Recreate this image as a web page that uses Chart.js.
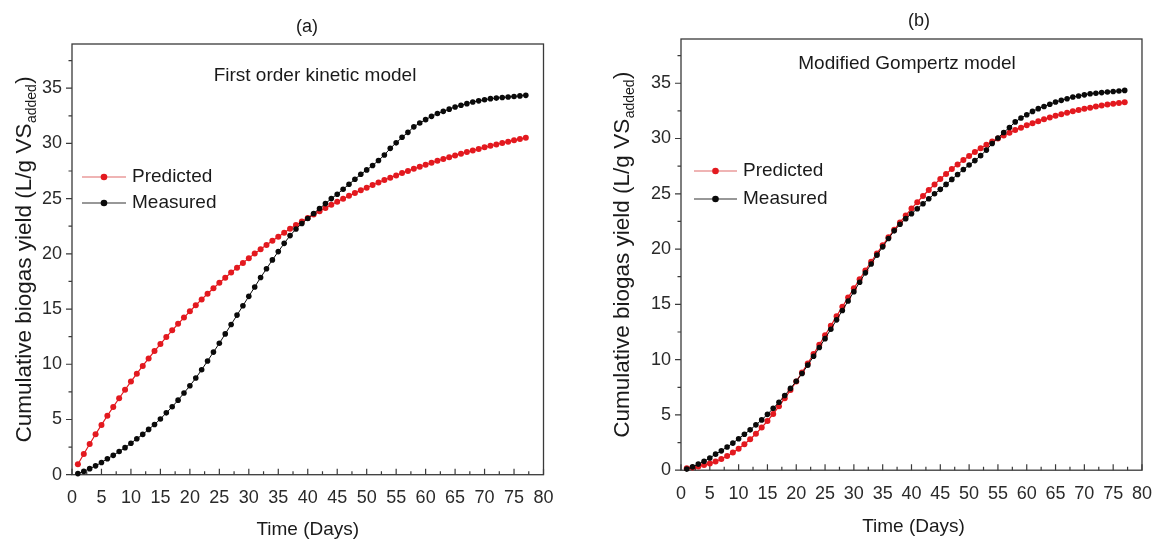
<!DOCTYPE html>
<html><head><meta charset="utf-8">
<script src="https://cdn.jsdelivr.net/npm/chart.js@4/dist/chart.umd.min.js"></script>
<style>
html,body{margin:0;padding:0;background:#fff;width:1165px;height:543px;overflow:hidden}
.panel{position:absolute;top:0;height:543px}
#pa{left:0;width:575px}
#pb{left:585px;width:580px}
</style></head><body>
<div class="panel" id="pa"><canvas id="ca"></canvas></div>
<div class="panel" id="pb"><canvas id="cb"></canvas></div>
<script>
const days = [1,2,3,4,5,6,7,8,9,10,11,12,13,14,15,16,17,18,19,20,21,22,23,24,25,26,27,28,29,30,31,32,33,34,35,36,37,38,39,40,41,42,43,44,45,46,47,48,49,50,51,52,53,54,55,56,57,58,59,60,61,62,63,64,65,66,67,68,69,70,71,72,73,74,75,76,77];
const measured = [0.10,0.30,0.55,0.80,1.10,1.45,1.75,2.10,2.45,2.85,3.25,3.65,4.10,4.55,5.05,5.60,6.15,6.75,7.40,8.05,8.75,9.50,10.30,11.10,11.90,12.75,13.60,14.45,15.30,16.15,17.00,17.85,18.65,19.45,20.20,20.95,21.65,22.25,22.75,23.20,23.65,24.10,24.55,25.00,25.40,25.85,26.30,26.75,27.20,27.60,28.00,28.45,28.95,29.55,30.05,30.55,31.00,31.50,31.85,32.15,32.45,32.70,32.90,33.10,33.30,33.45,33.60,33.75,33.85,33.95,34.05,34.10,34.15,34.20,34.25,34.30,34.35];
const predictedFirstOrder = [0.95,1.88,2.78,3.66,4.51,5.34,6.14,6.92,7.69,8.43,9.15,9.85,10.53,11.19,11.83,12.46,13.07,13.66,14.23,14.79,15.34,15.87,16.38,16.88,17.37,17.84,18.30,18.75,19.18,19.61,20.02,20.42,20.81,21.18,21.55,21.91,22.26,22.60,22.92,23.24,23.55,23.86,24.15,24.44,24.71,24.98,25.25,25.50,25.75,25.99,26.23,26.46,26.68,26.89,27.10,27.31,27.51,27.70,27.89,28.07,28.25,28.42,28.59,28.75,28.91,29.07,29.22,29.36,29.50,29.64,29.78,29.91,30.03,30.16,30.28,30.39,30.51];
const predictedGompertz = [0.17,0.24,0.34,0.46,0.61,0.79,1.01,1.28,1.59,1.94,2.35,2.80,3.30,3.86,4.45,5.09,5.78,6.50,7.25,8.03,8.83,9.66,10.50,11.35,12.21,13.07,13.93,14.78,15.62,16.45,17.27,18.07,18.85,19.61,20.34,21.06,21.74,22.41,23.04,23.66,24.24,24.80,25.34,25.85,26.34,26.80,27.24,27.66,28.05,28.42,28.78,29.11,29.43,29.73,30.01,30.27,30.52,30.76,30.98,31.19,31.39,31.57,31.74,31.90,32.06,32.20,32.34,32.46,32.58,32.69,32.79,32.89,32.98,33.07,33.15,33.22,33.29];
const xTicks = [0,5,10,15,20,25,30,35,40,45,50,55,60,65,70,75,80];
const xMinorTicks = [2.5,7.5,12.5,17.5,22.5,27.5,32.5,37.5,42.5,47.5,52.5,57.5,62.5,67.5,72.5,77.5];
const yTicks = [0,5,10,15,20,25,30,35];
const yMinorTicks = [2.5,7.5,12.5,17.5,22.5,27.5,32.5,37.5];
const seriesNames = ['Predicted','Measured'];
const panelTitles = ['(a)','(b)'];
const modelNames = ['First order kinetic model','Modified Gompertz model'];
const xTitle = 'Time (Days)';
const yTitleMain = 'Cumulative biogas yield (L/g VS';
const yTitleSub = 'added';
const yTitleEnd = ')';

const FONT = "'Liberation Sans', Arial, Helvetica, sans-serif";
const RED = '#e3191f';
const BLACK = '#0a0a0a';

function pts(vals){ return days.map((d,i)=>({x:d,y:vals[i]})); }

const decor = {
  id:'decor',
  beforeDatasetsDraw(chart, args, o){
    const ctx = chart.ctx, a = chart.chartArea;
    const xs = chart.scales.x, ys = chart.scales.y;
    ctx.save();
    ctx.strokeStyle = '#3a3a3a';
    ctx.lineWidth = 1.3;
    ctx.strokeRect(a.left, a.top, a.right-a.left, a.bottom-a.top);
    ctx.lineWidth = 1.2;
    ctx.beginPath();
    xTicks.forEach(v=>{const p=xs.getPixelForValue(v); ctx.moveTo(p,a.bottom); ctx.lineTo(p,a.bottom-6);});
    xMinorTicks.forEach(v=>{const p=xs.getPixelForValue(v); ctx.moveTo(p,a.bottom); ctx.lineTo(p,a.bottom-3.5);});
    yTicks.forEach(v=>{const p=ys.getPixelForValue(v); ctx.moveTo(a.left,p); ctx.lineTo(a.left-6,p);});
    yMinorTicks.forEach(v=>{const p=ys.getPixelForValue(v); ctx.moveTo(a.left,p); ctx.lineTo(a.left-3.5,p);});
    ctx.stroke();
    ctx.restore();
  },
  afterDraw(chart, args, o){
    const ctx = chart.ctx, a = chart.chartArea;
    ctx.save();
    ctx.fillStyle = '#1a1a1a';
    ctx.textAlign = 'center';
    ctx.textBaseline = 'middle';
    ctx.font = `18px ${FONT}`;
    ctx.fillText(o.title, o.titleX, o.titleY);
    ctx.font = `19px ${FONT}`;
    ctx.fillText(o.model, o.modelX, o.modelY);
    ctx.font = `19px ${FONT}`;
    ctx.fillText(xTitle, (a.left+a.right)/2 + o.xtDx, o.xtY);
    // y title with subscript
    const big = 22.5, small = 14;
    ctx.translate(o.ytX, (a.top+a.bottom)/2);
    ctx.rotate(-Math.PI/2);
    ctx.textAlign = 'left';
    ctx.textBaseline = 'alphabetic';
    ctx.font = `${big}px ${FONT}`;
    const w1 = ctx.measureText(yTitleMain).width;
    const w3 = ctx.measureText(yTitleEnd).width;
    ctx.font = `${small}px ${FONT}`;
    const w2 = ctx.measureText(yTitleSub).width;
    let sx = -(w1+w2+w3+1)/2;
    const base = big*0.36;
    ctx.font = `${big}px ${FONT}`;
    ctx.fillText(yTitleMain, sx, base);
    ctx.font = `${small}px ${FONT}`;
    ctx.fillText(yTitleSub, sx+w1+0.5, base+5);
    ctx.font = `${big}px ${FONT}`;
    ctx.fillText(yTitleEnd, sx+w1+w2+1, base);
    ctx.setTransform(1,0,0,1,0,0);
    // legend
    const cols = [RED, BLACK];
    ctx.textAlign = 'left';
    ctx.textBaseline = 'middle';
    ctx.font = `19px ${FONT}`;
    seriesNames.forEach((n,i)=>{
      const y = o.legY[i];
      ctx.strokeStyle = i===0 ? '#e06a6a' : '#333';
      ctx.lineWidth = 1.2;
      ctx.beginPath(); ctx.moveTo(o.legX0,y); ctx.lineTo(o.legX1,y); ctx.stroke();
      ctx.fillStyle = cols[i];
      ctx.beginPath(); ctx.arc((o.legX0+o.legX1)/2, y, 3.3, 0, Math.PI*2); ctx.fill();
      ctx.fillStyle = '#1a1a1a';
      ctx.fillText(n, o.legTX, y);
    });
    ctx.restore();
  }
};

function makeChart(id, predicted, pad, dec){
  return new Chart(document.getElementById(id), {
    type:'line',
    data:{datasets:[
      {label:seriesNames[1], data:pts(measured), borderColor:BLACK, backgroundColor:BLACK, borderWidth:1,
       pointRadius:2.8, pointBorderWidth:0, pointBackgroundColor:BLACK, order:0, clip:6},
      {label:seriesNames[0], data:pts(predicted), borderColor:RED, backgroundColor:RED, borderWidth:1.2,
       pointRadius:3, pointBorderWidth:0, pointBackgroundColor:RED, order:1, clip:6}
    ]},
    options:{
      responsive:true, maintainAspectRatio:false, animation:false, devicePixelRatio:1,
      layout:{padding:pad},
      plugins:{legend:{display:false}, tooltip:{enabled:false}, title:{display:false}, decor:dec},
      scales:{
        x:{type:'linear', min:0, max:80,
           afterBuildTicks(s){ s.ticks = xTicks.map(v=>({value:v})); },
           afterFit(s){ s.height = 45; },
           grid:{display:false, drawTicks:false}, border:{display:false},
           ticks:{padding:13, color:'#2a2a2a', font:{family:FONT, size:18}, maxRotation:0, autoSkip:false, includeBounds:false}},
        y:{type:'linear', min:0, max:39,
           afterBuildTicks(s){ s.ticks = yTicks.map(v=>({value:v})); },
           afterFit(s){ s.width = 40; },
           grid:{display:false, drawTicks:false}, border:{display:false},
           ticks:{padding:10, color:'#2a2a2a', font:{family:FONT, size:18}, autoSkip:false, includeBounds:false}}
      }
    },
    plugins:[decor]
  });
}

makeChart('ca', predictedFirstOrder, {left:32, right:31.5, top:44, bottom:23.3},
  {title:panelTitles[0], titleX:307, titleY:27, model:modelNames[0], modelX:315, modelY:76,
   xtDx:0, xtY:530, ytX:23, legX0:82, legX1:126, legTX:132, legY:[177,203]});
makeChart('cb', predictedGompertz, {left:56, right:14.5, top:39, bottom:27.8},
  {title:panelTitles[1], titleX:334, titleY:21, model:modelNames[1], modelX:322, modelY:64,
   xtDx:2, xtY:527, ytX:36, legX0:109, legX1:152, legTX:158, legY:[171,199]});
</script>
</body></html>
